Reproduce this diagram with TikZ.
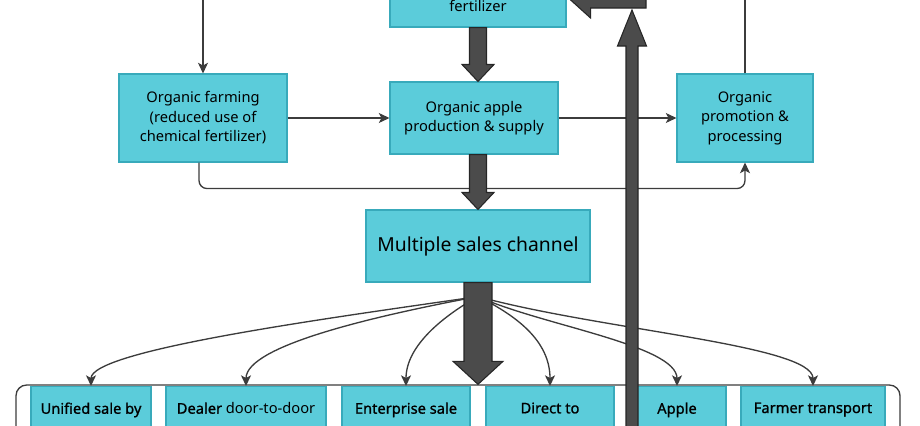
\documentclass[tikz,border=0pt]{standalone}
\usepackage{fontspec}
\setmainfont{Noto Sans}[BoldFont={Noto Sans}, BoldFeatures={FakeBold=1.0}]
\usetikzlibrary{arrows.meta,calc}
\definecolor{boxfill}{HTML}{5BCCDA}
\definecolor{boxline}{HTML}{38AABB}
\definecolor{fatfill}{HTML}{4B4B4B}
\definecolor{linecol}{HTML}{3C3C3C}
% fat arrows: #1 start, #2 tip, #3 shaft half width, #4 head half width, #5 head length
\newcommand\fatdown[5]{\filldraw[fat] ($(#1)+(-#3,0)$) -- ($(#2)+(-#3,-#5)$) -- ($(#2)+(-#4,-#5)$) -- (#2) -- ($(#2)+(#4,-#5)$) -- ($(#2)+(#3,-#5)$) -- ($(#1)+(#3,0)$) -- cycle;}
\newcommand\fatup[5]{\filldraw[fat] ($(#1)+(-#3,0)$) -- ($(#2)+(-#3,#5)$) -- ($(#2)+(-#4,#5)$) -- (#2) -- ($(#2)+(#4,#5)$) -- ($(#2)+(#3,#5)$) -- ($(#1)+(#3,0)$) -- cycle;}
\newcommand\fatleft[5]{\filldraw[fat] ($(#1)+(0,-#3)$) -- ($(#2)+(#5,-#3)$) -- ($(#2)+(#5,-#4)$) -- (#2) -- ($(#2)+(#5,#4)$) -- ($(#2)+(#5,#3)$) -- ($(#1)+(0,#3)$) -- cycle;}
\begin{document}
\begin{tikzpicture}[x=0.75pt,y=-0.75pt,
  box/.style={draw=boxline, fill=boxfill, line width=0.8pt, align=center, inner sep=0pt,
    font=\fontsize{11}{14.6}\selectfont},
  bot/.style={box, anchor=north, inner xsep=0pt, inner ysep=12pt, text depth=14pt,
    font=\fontsize{11}{14.6}\selectfont\bfseries},
  conn/.style={draw=linecol, line width=1pt, -{Stealth[length=8pt,width=7.5pt,inset=2pt]}},
  plain/.style={draw=linecol, line width=1pt},
  fat/.style={fill=fatfill, draw=black!85, line width=0.8pt}]
\useasboundingbox (0,0) rectangle (920,425);
\clip (0,0) rectangle (920,425);

% bottom group
\node (group) [draw=linecol, line width=1pt, rounded corners=8pt, minimum width=663pt, minimum height=67.5pt] at (458,430) {};
\node (b1) [bot, minimum width=90pt]  at (91,386)  {Unified sale by};
\node (b2) [bot, minimum width=120pt] at (246,386) {Dealer \mdseries door-to-door};
\node (b3) [bot, minimum width=96pt]  at (406,386) {Enterprise sale};
\node (b4) [bot, minimum width=96pt]  at (550,386) {Direct to};
\node (b5) [bot, minimum width=73.5pt] at (677,386) {Apple};
\node (b6) [bot, minimum width=108pt] at (813,386) {Farmer transport};

% upper boxes
\node (fert) [box, minimum width=132pt, minimum height=60pt] at (478,-13) {};
\node (fertlbl) [font=\fontsize{11}{14.6}\selectfont, inner sep=0pt] at (478,6) {fertilizer};
\node (farm) [box, minimum width=126pt, minimum height=66pt] at (203,118) {Organic farming\\(reduced use of\\chemical fertilizer)};
\node (apple) [box, minimum width=126pt, minimum height=54pt] at (474,118) {Organic apple\\production \& supply};
\node (promo) [box, minimum width=102pt, minimum height=66pt] at (745,118) {Organic\\promotion \&\\processing};
\node (multi) [box, minimum width=168pt, minimum height=54pt, font=\fontsize{14.5}{18}\selectfont] at (478,246) {Multiple sales channel};

% thin connectors
\coordinate (tl) at (203,-10);
\coordinate (tr) at (745,-10);
\draw[conn] (tl) -- (farm.north);
\draw[plain] (promo.north) -- (tr);
\draw[conn] (farm.east) -- (apple.west);
\draw[conn] (apple.east) -- (promo.west);
\draw[conn, rounded corners=6pt] ($(farm.south)+(-4,0)$) -- ++(0,26) -| (promo.south);

% fan of sales channels
\coordinate (fan) at ($(multi.south)+(0,14)$);
\draw[conn] (fan) .. controls (330,318) and (91,350) .. (b1.north);
\draw[conn] (fan) .. controls (380,315) and (246,345) .. (b2.north);
\draw[conn] (fan) .. controls (445,315) and (406,345) .. (b3.north);
\draw[conn] (fan) .. controls (515,315) and (550,340) .. (b4.north);
\draw[conn] (fan) .. controls (540,325) and (677,345) .. (b5.north);
\draw[conn] (fan) .. controls (600,330) and (813,345) .. (b6.north);

% fat arrows
\fatdown{fert.south}{fert.south |- apple.north}{8.5}{16}{17}
\fatdown{multi.north |- apple.south}{multi.north}{8.5}{16}{17}
\fatdown{multi.south}{group.north -| multi.south}{14}{25}{23}
\coordinate (upbot) at (632,480);
\coordinate (uptop) at (632,10);
\fatup{upbot}{uptop}{6}{14.5}{36}
\coordinate (lefttail) at (646,-1);
\coordinate (lefttip) at ($(fert.east |- lefttail)+(3,0)$);
\fatleft{lefttail}{lefttip}{9}{19}{21}
\end{tikzpicture}
\end{document}
